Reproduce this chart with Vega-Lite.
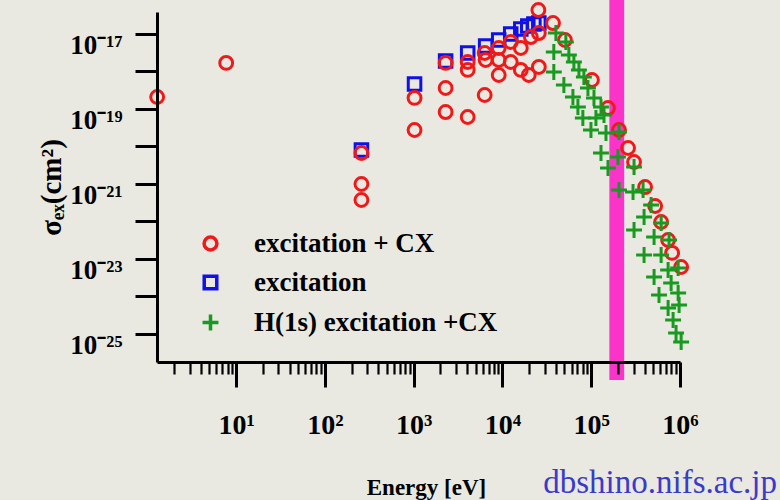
{
  "$schema": "https://vega.github.io/schema/vega-lite/v6.json",
  "width": 523,
  "height": 350,
  "autosize": {"type": "none"},
  "padding": {"left": 157, "top": 12, "right": 100, "bottom": 138},
  "background": "#eae9e1",
  "config": {"view": {"stroke": null}, "font": "Liberation Serif"},
  "title": {"text": "dbshino.nifs.ac.jp", "orient": "bottom", "anchor": "end", "frame": "group", "font": "Liberation Serif", "fontSize": 33, "fontWeight": "normal", "color": "#3a3acb", "dx": 97, "dy": -6, "offset": 0, "baseline": "alphabetic"},
  "encoding": {
    "x": {
      "field": "E", "type": "quantitative",
      "scale": {"type": "log", "domain": [1.285, 1000000], "nice": false},
      "axis": {
        "title": "Energy [eV]",
        "values": [2,3,4,5,6,7,8,9,10,20,30,40,50,60,70,80,90,100,200,300,400,500,600,700,800,900,1000,2000,3000,4000,5000,6000,7000,8000,9000,10000,20000,30000,40000,50000,60000,70000,80000,90000,100000,200000,300000,400000,500000,600000,700000,800000,900000,1000000],
        "labelExpr": "abs(log(datum.value)/LN10 - round(log(datum.value)/LN10)) < 0.01 ? '10' + ['⁰','¹','²','³','⁴','⁵','⁶'][round(log(datum.value)/LN10)] : ''",
        "tickSize": 25,
        "tickWidth": {"condition": {"test": "abs(log(datum.value)/LN10 - round(log(datum.value)/LN10)) > 0.01", "value": 2.2}, "value": 3},
        "tickDash": {"condition": {"test": "abs(log(datum.value)/LN10 - round(log(datum.value)/LN10)) > 0.01", "value": [12, 40]}, "value": []},
        "tickColor": "#000",
        "domainColor": "#000", "domainWidth": 3,
        "grid": false,
        "labelFont": "Liberation Serif", "labelFontSize": 28, "labelFontWeight": "bold", "labelColor": "#000",
        "labelPadding": 24, "labelFlush": false, "labelOverlap": false, "labelBound": false,
        "titleFont": "Liberation Serif", "titleFontSize": 23, "titleFontWeight": "bold", "titleColor": "#000",
        "titleX": 269, "titleY": 132, "titleBaseline": "alphabetic",
        "zindex": 1
      }
    },
    "y": {
      "field": "sigma", "type": "quantitative",
      "scale": {"type": "log", "domain": [1.79e-26, 3.86e-17], "nice": false},
      "axis": {
        "title": "σₑₓ(cm²)",
        "values": [1e-17, 1e-18, 1e-19, 1e-20, 1e-21, 1e-22, 1e-23, 1e-24, 1e-25],
        "labelExpr": "['','','','','','','','','','','','','','','','','','10⁻¹⁷','','10⁻¹⁹','','10⁻²¹','','10⁻²³','','10⁻²⁵'][round(-log(datum.value)/LN10)]",
        "tickSize": 22, "tickWidth": 3, "tickColor": "#000",
        "domainColor": "#000", "domainWidth": 3,
        "grid": false,
        "labelFont": "Liberation Serif", "labelFontSize": 27, "labelFontWeight": "bold", "labelColor": "#000",
        "labelPadding": 13, "labelOffset": 12, "labelOverlap": false, "labelBound": false, "labelFlush": false,
        "titleFont": "Liberation Serif", "titleFontSize": 29, "titleFontWeight": "bold", "titleColor": "#000",
        "titleAngle": 270, "titleX": -97, "titleY": 175, "titleBaseline": "alphabetic",
        "zindex": 1
      }
    }
  },
  "layer": [
    {
      "data": {"values": [{"E": 160000, "E2": 235000, "sigma": 8.1e-17, "sigma2": 5.9e-27}]},
      "mark": {"type": "rect", "color": "#fb34c9", "opacity": 1},
      "encoding": {"x2": {"field": "E2"}, "y2": {"field": "sigma2"}}
    },
    {
      "data": {"values": [
        {"series": "excitation", "E": 258, "sigma": 8.07e-21},
        {"series": "excitation", "E": 1023, "sigma": 4.64e-19},
        {"series": "excitation", "E": 2290, "sigma": 1.91e-18},
        {"series": "excitation", "E": 4060, "sigma": 3.11e-18},
        {"series": "excitation", "E": 6470, "sigma": 4.79e-18},
        {"series": "excitation", "E": 9080, "sigma": 6.92e-18},
        {"series": "excitation", "E": 12400, "sigma": 1.0e-17},
        {"series": "excitation", "E": 16100, "sigma": 1.36e-17},
        {"series": "excitation", "E": 19300, "sigma": 1.63e-17},
        {"series": "excitation", "E": 22600, "sigma": 1.85e-17},
        {"series": "excitation", "E": 25700, "sigma": 1.96e-17},
        {"series": "excitation + CX", "E": 1.29, "sigma": 2.09e-19},
        {"series": "excitation + CX", "E": 7.73, "sigma": 1.69e-18},
        {"series": "excitation + CX", "E": 258, "sigma": 6.71e-21},
        {"series": "excitation + CX", "E": 258, "sigma": 1.0e-21},
        {"series": "excitation + CX", "E": 258, "sigma": 3.74e-22},
        {"series": "excitation + CX", "E": 1023, "sigma": 1.97e-19},
        {"series": "excitation + CX", "E": 1023, "sigma": 2.75e-20},
        {"series": "excitation + CX", "E": 2290, "sigma": 1.69e-18},
        {"series": "excitation + CX", "E": 2290, "sigma": 3.63e-19},
        {"series": "excitation + CX", "E": 2290, "sigma": 8.3e-20},
        {"series": "excitation + CX", "E": 4060, "sigma": 1.79e-18},
        {"series": "excitation + CX", "E": 4060, "sigma": 1.1e-18},
        {"series": "excitation + CX", "E": 4060, "sigma": 6.12e-20},
        {"series": "excitation + CX", "E": 6310, "sigma": 3.11e-18},
        {"series": "excitation + CX", "E": 6470, "sigma": 2.03e-18},
        {"series": "excitation + CX", "E": 6310, "sigma": 2.36e-19},
        {"series": "excitation + CX", "E": 9080, "sigma": 4.23e-18},
        {"series": "excitation + CX", "E": 9080, "sigma": 2.03e-18},
        {"series": "excitation + CX", "E": 9080, "sigma": 8.07e-19},
        {"series": "excitation + CX", "E": 12400, "sigma": 6.12e-18},
        {"series": "excitation + CX", "E": 12400, "sigma": 1.79e-18},
        {"series": "excitation + CX", "E": 16100, "sigma": 4.23e-18},
        {"series": "excitation + CX", "E": 16100, "sigma": 1.1e-18},
        {"series": "excitation + CX", "E": 20900, "sigma": 8.3e-18},
        {"series": "excitation + CX", "E": 19800, "sigma": 8.07e-19},
        {"series": "excitation + CX", "E": 25700, "sigma": 1.06e-17},
        {"series": "excitation + CX", "E": 25700, "sigma": 1.32e-18},
        {"series": "excitation + CX", "E": 25400, "sigma": 4.37e-17},
        {"series": "excitation + CX", "E": 37100, "sigma": 1.96e-17},
        {"series": "excitation + CX", "E": 50600, "sigma": 6.92e-18},
        {"series": "excitation + CX", "E": 101900, "sigma": 5.93e-19},
        {"series": "excitation + CX", "E": 154500, "sigma": 1.06e-19},
        {"series": "excitation + CX", "E": 205600, "sigma": 2.75e-20},
        {"series": "excitation + CX", "E": 260000, "sigma": 9.12e-21},
        {"series": "excitation + CX", "E": 303600, "sigma": 3.86e-21},
        {"series": "excitation + CX", "E": 404200, "sigma": 8.3e-22},
        {"series": "excitation + CX", "E": 524800, "sigma": 2.59e-22},
        {"series": "excitation + CX", "E": 612900, "sigma": 9.7e-23},
        {"series": "excitation + CX", "E": 734500, "sigma": 3.21e-23},
        {"series": "excitation + CX", "E": 815000, "sigma": 1.45e-23},
        {"series": "excitation + CX", "E": 1030000, "sigma": 6.12e-24},
        {"series": "H(1s) excitation +CX", "E": 40000, "sigma": 1.06e-17},
        {"series": "H(1s) excitation +CX", "E": 37900, "sigma": 3.31e-18},
        {"series": "H(1s) excitation +CX", "E": 37900, "sigma": 9.7e-19},
        {"series": "H(1s) excitation +CX", "E": 51800, "sigma": 6.12e-18},
        {"series": "H(1s) excitation +CX", "E": 56000, "sigma": 2.75e-18},
        {"series": "H(1s) excitation +CX", "E": 63800, "sigma": 1.79e-18},
        {"series": "H(1s) excitation +CX", "E": 72700, "sigma": 1.1e-18},
        {"series": "H(1s) excitation +CX", "E": 82700, "sigma": 7.13e-19},
        {"series": "H(1s) excitation +CX", "E": 91800, "sigma": 3.63e-19},
        {"series": "H(1s) excitation +CX", "E": 49200, "sigma": 4.37e-19},
        {"series": "H(1s) excitation +CX", "E": 62200, "sigma": 2.09e-19},
        {"series": "H(1s) excitation +CX", "E": 70800, "sigma": 1.13e-19},
        {"series": "H(1s) excitation +CX", "E": 107400, "sigma": 1.97e-19},
        {"series": "H(1s) excitation +CX", "E": 128800, "sigma": 1.13e-19},
        {"series": "H(1s) excitation +CX", "E": 80500, "sigma": 5.75e-20},
        {"series": "H(1s) excitation +CX", "E": 99300, "sigma": 2.75e-20},
        {"series": "H(1s) excitation +CX", "E": 113000, "sigma": 5.75e-20},
        {"series": "H(1s) excitation +CX", "E": 139300, "sigma": 6.92e-20},
        {"series": "H(1s) excitation +CX", "E": 146600, "sigma": 2.29e-20},
        {"series": "H(1s) excitation +CX", "E": 205600, "sigma": 2.44e-20},
        {"series": "H(1s) excitation +CX", "E": 128800, "sigma": 6.71e-21},
        {"series": "H(1s) excitation +CX", "E": 200000, "sigma": 5.25e-21},
        {"series": "H(1s) excitation +CX", "E": 154500, "sigma": 2.67e-21},
        {"series": "H(1s) excitation +CX", "E": 303600, "sigma": 2.84e-21},
        {"series": "H(1s) excitation +CX", "E": 205600, "sigma": 6.92e-22},
        {"series": "H(1s) excitation +CX", "E": 295800, "sigma": 6.12e-22},
        {"series": "H(1s) excitation +CX", "E": 383700, "sigma": 6.92e-22},
        {"series": "H(1s) excitation +CX", "E": 472600, "sigma": 2.75e-22},
        {"series": "H(1s) excitation +CX", "E": 393800, "sigma": 1.32e-22},
        {"series": "H(1s) excitation +CX", "E": 303600, "sigma": 5.93e-23},
        {"series": "H(1s) excitation +CX", "E": 613700, "sigma": 9.12e-23},
        {"series": "H(1s) excitation +CX", "E": 510500, "sigma": 3.86e-23},
        {"series": "H(1s) excitation +CX", "E": 753000, "sigma": 3.21e-23},
        {"series": "H(1s) excitation +CX", "E": 393800, "sigma": 1.28e-23},
        {"series": "H(1s) excitation +CX", "E": 612900, "sigma": 1.28e-23},
        {"series": "H(1s) excitation +CX", "E": 953000, "sigma": 5.75e-24},
        {"series": "H(1s) excitation +CX", "E": 734500, "sigma": 5.09e-24},
        {"series": "H(1s) excitation +CX", "E": 510500, "sigma": 3.31e-24},
        {"series": "H(1s) excitation +CX", "E": 794300, "sigma": 2.29e-24},
        {"series": "H(1s) excitation +CX", "E": 580000, "sigma": 1.1e-24},
        {"series": "H(1s) excitation +CX", "E": 953000, "sigma": 1.24e-24},
        {"series": "H(1s) excitation +CX", "E": 734500, "sigma": 4.93e-25},
        {"series": "H(1s) excitation +CX", "E": 977000, "sigma": 5.93e-25},
        {"series": "H(1s) excitation +CX", "E": 836000, "sigma": 2.36e-25},
        {"series": "H(1s) excitation +CX", "E": 903000, "sigma": 1.06e-25},
        {"series": "H(1s) excitation +CX", "E": 1030000, "sigma": 6.12e-26}
      ]},
      "mark": {"type": "point", "filled": false, "strokeWidth": 3, "opacity": 1},
      "encoding": {
        "color": {
          "field": "series", "type": "nominal",
          "scale": {"domain": ["excitation + CX", "excitation", "H(1s) excitation +CX"], "range": ["#f01818", "#1010e8", "#179a1f"]},
          "legend": {"orient": "none", "legendX": 40, "legendY": 218, "title": null, "labelFont": "Liberation Serif", "labelFontSize": 27, "labelFontWeight": "bold", "labelColor": "#000", "labelLimit": 0, "symbolSize": 110, "symbolStrokeWidth": 3.5, "rowPadding": 11, "labelOffset": 30}
        },
        "shape": {
          "field": "series", "type": "nominal",
          "scale": {"domain": ["excitation + CX", "excitation", "H(1s) excitation +CX"], "range": ["circle", "square", "M-1.3,0H1.3M0,-1.3V1.3"]},
          "legend": {"orient": "none", "legendX": 40, "legendY": 218, "title": null, "labelFont": "Liberation Serif", "labelFontSize": 27, "labelFontWeight": "bold", "labelColor": "#000", "labelLimit": 0, "symbolSize": 110, "symbolStrokeWidth": 3.5, "rowPadding": 11, "labelOffset": 30}
        },
        "size": {
          "field": "series", "type": "ordinal",
          "scale": {"domain": ["excitation + CX", "excitation", "H(1s) excitation +CX"], "range": [165, 150, 160]},
          "legend": null
        }
      }
    }
  ]
}
